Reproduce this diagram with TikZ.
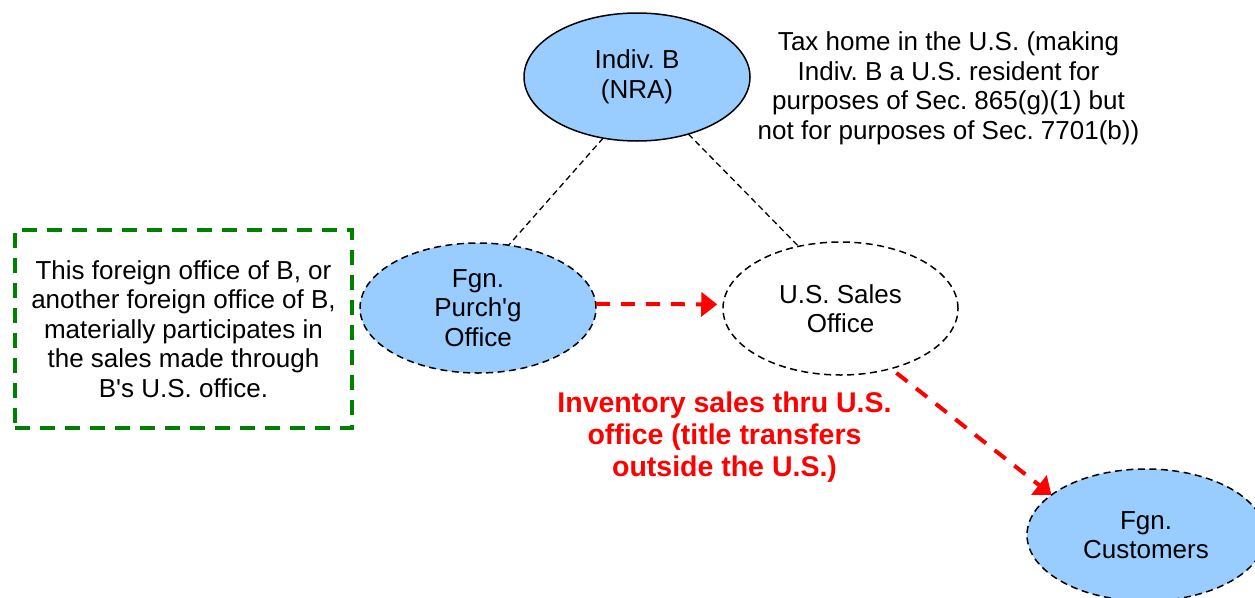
\documentclass[tikz,border=0pt]{standalone}
\usepackage{fontspec}
\setmainfont{Liberation Sans}
\frenchspacing
\usetikzlibrary{shapes.geometric,arrows.meta}
\definecolor{fillblue}{RGB}{153,204,255}
\definecolor{boxgreen}{RGB}{0,128,0}
\tikzset{
  txt/.style={font=\fontsize{26}{29.5}\selectfont, align=center, inner sep=0pt},
  oval/.style={ellipse, draw=black, line width=1.5pt, inner sep=0pt, outer sep=0pt, txt},
  dashoval/.style={oval, dash pattern=on 7pt off 4.5pt},
  link/.style={draw=black, line width=1.3pt, dash pattern=on 6pt off 4pt},
  redarrow/.style={draw=red, line width=4pt, dash pattern=on 14pt off 11pt, -{Triangle[length=16pt,width=24pt]}},
  greenbox/.style={draw=boxgreen, line width=4pt, dash pattern=on 15pt off 10pt, rectangle, txt, outer sep=0pt},
  redlabel/.style={font=\fontsize{28.5}{32}\selectfont\bfseries, text=red, align=center, inner sep=0pt}
}
\begin{document}
\begin{tikzpicture}[x=1pt,y=-1pt]
\useasboundingbox (0,0) rectangle (1255,597);
\node[oval, fill=fillblue, minimum width=226pt, minimum height=128pt] (indiv) at (637,77) {Indiv. B\\(NRA)};
\node[txt] (taxhome) at (948.5,88.5) {Tax home in the U.S. (making\\Indiv. B a U.S. resident for\\purposes of Sec. 865(g)(1) but\\not for purposes of Sec. 7701(b))};
\node[dashoval, fill=fillblue, minimum width=236pt, minimum height=130pt] (purch) at (478,308) {Fgn.\\Purch\textquotesingle g\\Office};
\node[dashoval, fill=white, minimum width=235pt, minimum height=133pt] (sales) at (840.5,308.5) {U.S. Sales\\Office};
\node[dashoval, fill=fillblue, minimum width=238pt, minimum height=132pt] (cust) at (1146,535) {Fgn.\\Customers};
\node[greenbox, minimum width=337pt, minimum height=198pt] (note) at (183.5,329) {This foreign office of B, or\\another foreign office of B,\\materially participates in\\the sales made through\\B\textquotesingle s U.S. office.};
\node[redlabel] (redtext) at (724.5,437) {Inventory sales thru U.S.\\office (title transfers\\outside the U.S.)};
\draw[link] (indiv.241) -- (purch.64.5);
\draw[link] (indiv.312) -- (sales.124.4);
\draw[redarrow, shorten >=6pt] (purch.2) -- (sales.178);
\draw[redarrow, shorten <=7pt] (sales.-50) -- (cust.157);
\end{tikzpicture}
\end{document}
